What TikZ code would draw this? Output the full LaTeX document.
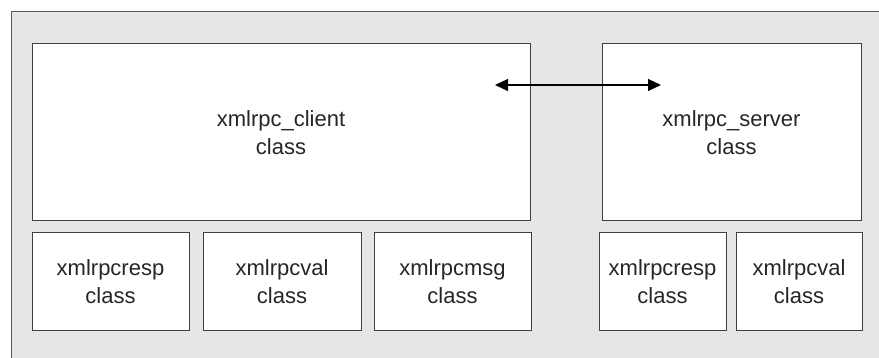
\documentclass[tikz,border=0pt]{standalone}
\usepackage{fontspec}
\setmainfont{Liberation Sans}
\usetikzlibrary{arrows.meta}
\definecolor{panelgray}{RGB}{229,230,232}
\definecolor{framegray}{RGB}{88,89,91}
\definecolor{boxline}{RGB}{64,64,66}
\tikzset{
  classbox/.style={draw=boxline,line width=1pt,fill=white,align=center,
    inner sep=0pt,font=\fontsize{22}{28}\selectfont,text=black!85}
}

\begin{document}
\begin{tikzpicture}[x=1pt,y=-1pt]
\clip (0,0) rectangle (879,358);
\fill[panelgray] (11,12) rectangle (890,370);
\draw[framegray,line width=1pt] (11,370) -- (11,12) -- (890,12);

\node[classbox,minimum width=498pt,minimum height=177pt] (client) at (281,132.5) {xmlrpc\_client\\class};
\node[classbox,minimum width=259pt,minimum height=177pt] (server) at (731.5,132.5) {xmlrpc\_server\\class};

\node[classbox,minimum width=157pt,minimum height=98pt] (cresp) at (110.5,282) {xmlrpcresp\\class};
\node[classbox,minimum width=158pt,minimum height=98pt] (cval) at (282,282) {xmlrpcval\\class};
\node[classbox,minimum width=157pt,minimum height=98pt] (cmsg) at (452.5,282) {xmlrpcmsg\\class};
\node[classbox,minimum width=127pt,minimum height=98pt] (sresp) at (662.5,282) {xmlrpcresp\\class};
\node[classbox,minimum width=126pt,minimum height=98pt] (sval) at (799,282) {xmlrpcval\\class};

\coordinate (link client) at (495,85);
\coordinate (link server) at (661,85);
\draw[line width=1.2pt,{Triangle[length=13pt,width=12pt]}-{Triangle[length=13pt,width=12pt]}] (link client) -- (link server);
\end{tikzpicture}
\end{document}
